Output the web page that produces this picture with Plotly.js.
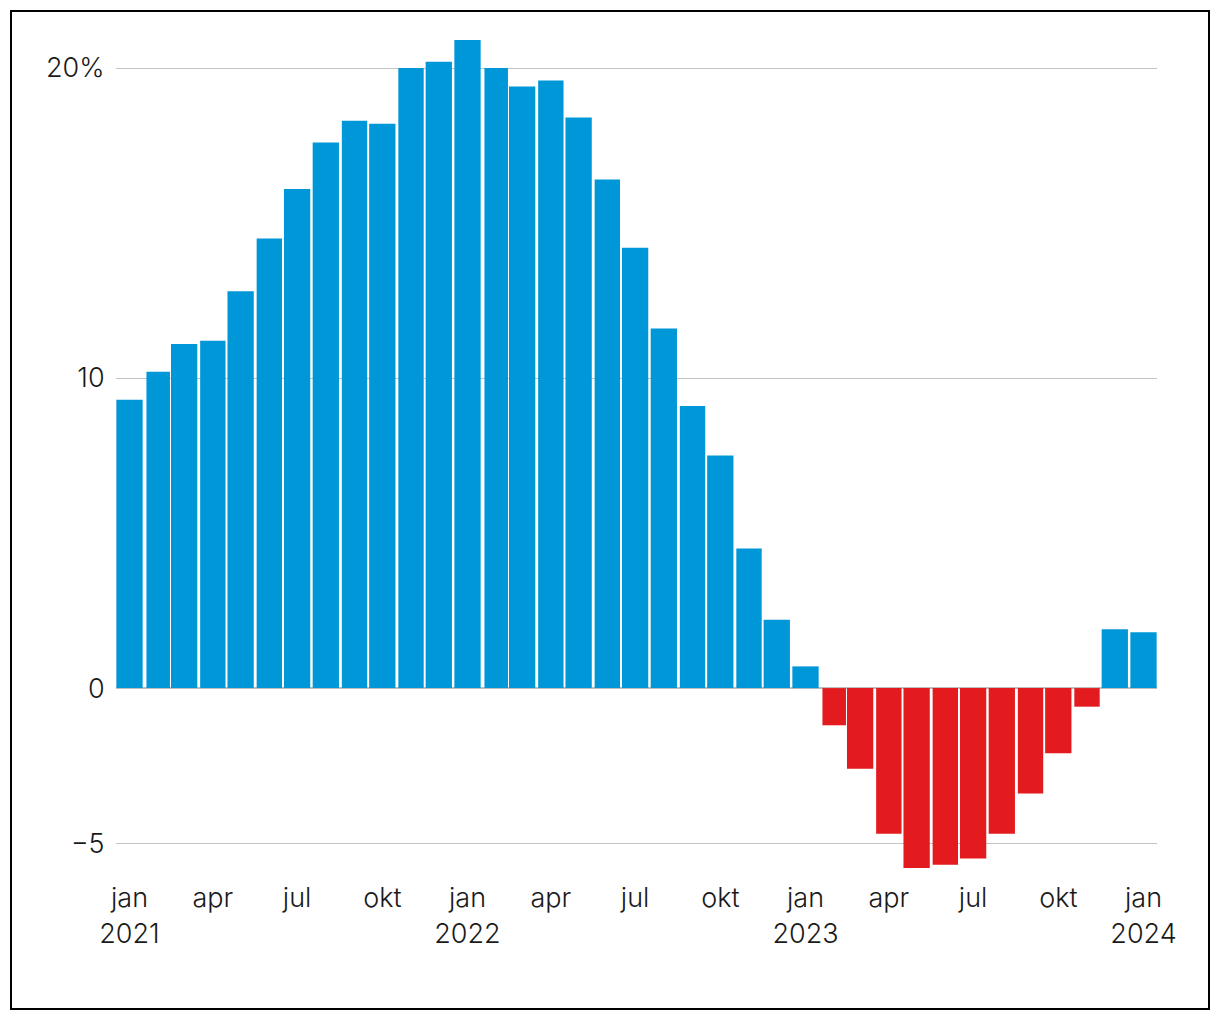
<!DOCTYPE html>
<html>
<head>
<meta charset="utf-8">
<script src="https://cdn.plot.ly/plotly-3.0.1.min.js"></script>
<style>
  html, body { margin: 0; padding: 0; background: #ffffff; }
  #chart { width: 1220px; height: 1020px; }
</style>
</head>
<body>
<div id="chart"></div>
<script>
// Month start dates (Jan 2021 – Jan 2024)
const months = [
  '2021-01-01','2021-02-01','2021-03-01','2021-04-01','2021-05-01','2021-06-01',
  '2021-07-01','2021-08-01','2021-09-01','2021-10-01','2021-11-01','2021-12-01',
  '2022-01-01','2022-02-01','2022-03-01','2022-04-01','2022-05-01','2022-06-01',
  '2022-07-01','2022-08-01','2022-09-01','2022-10-01','2022-11-01','2022-12-01',
  '2023-01-01','2023-02-01','2023-03-01','2023-04-01','2023-05-01','2023-06-01',
  '2023-07-01','2023-08-01','2023-09-01','2023-10-01','2023-11-01','2023-12-01',
  '2024-01-01'
];
// Year-on-year change, %
const values = [
  9.3, 10.2, 11.1, 11.2, 12.8, 14.5,
  16.1, 17.6, 18.3, 18.2, 20.0, 20.2,
  20.9, 20.0, 19.4, 19.6, 18.4, 16.4,
  14.2, 11.6, 9.1, 7.5, 4.5, 2.2,
  0.7, -1.2, -2.6, -4.7, -5.8, -5.7,
  -5.5, -4.7, -3.4, -2.1, -0.6, 1.9,
  1.8
];
const xTickVals = [
  '2021-01-01','2021-04-01','2021-07-01','2021-10-01',
  '2022-01-01','2022-04-01','2022-07-01','2022-10-01',
  '2023-01-01','2023-04-01','2023-07-01','2023-10-01',
  '2024-01-01'
];
const xTickText = [
  'jan<br>2021','apr','jul','okt',
  'jan<br>2022','apr','jul','okt',
  'jan<br>2023','apr','jul','okt',
  'jan<br>2024'
];
const yTickVals = [-5, 0, 10, 20];
const yTickText = ['\u22125', '0', '10', '20%'];

const BLUE = '#0097d9';
const RED = '#e31b1e';
const DAY = 86400000;

const widths = months.map(m => {
  const d = new Date(m + 'T00:00:00Z');
  const next = new Date(Date.UTC(d.getUTCFullYear(), d.getUTCMonth() + 1, 1));
  const days = (next - d) / DAY;
  return (days - 2.6) * DAY;
});
const colors = values.map(v => v < 0 ? RED : BLUE);

const trace = {
  type: 'bar',
  x: months,
  y: values,
  width: widths,
  marker: { color: colors, line: { width: 0 } },
  hoverinfo: 'x+y'
};

// plot area in pixels: x 116..1157, y 37..871
const L = 116, R = 1157, T = 37, B = 871;
const px = v => (v - L) / (R - L);
const py = v => (B - v) / (B - T);

const FONT = 'Inter, Roboto, Arial, sans-serif';
const TF = { family: FONT, size: 27, color: '#1a1a1a', weight: 300 };

const layout = {
  width: 1220,
  height: 1020,
  margin: { l: L, r: 1220 - R, t: T, b: 1020 - B, pad: 0 },
  paper_bgcolor: '#ffffff',
  plot_bgcolor: '#ffffff',
  showlegend: false,
  font: TF,
  xaxis: {
    type: 'date',
    range: ['2020-12-17 10:00', '2024-01-15 14:00'],
    tickmode: 'array',
    tickvals: xTickVals,
    ticktext: xTickText,
    ticks: 'outside',
    ticklen: 3,
    tickcolor: 'rgba(0,0,0,0)',
    showgrid: false,
    zeroline: false,
    showline: false,
    tickfont: TF
  },
  yaxis: {
    range: [-5.9, 21],
    tickmode: 'array',
    tickvals: yTickVals,
    ticktext: yTickText,
    ticks: 'outside',
    ticklen: 5,
    tickcolor: 'rgba(0,0,0,0)',
    showgrid: true,
    gridcolor: '#c4c4c4',
    gridwidth: 1,
    zeroline: true,
    zerolinecolor: '#bcbcbc',
    zerolinewidth: 2,
    showline: false,
    tickfont: TF
  },
  shapes: [{
    type: 'rect',
    xref: 'paper', yref: 'paper',
    x0: px(11), x1: px(1209),
    y0: py(1009), y1: py(11),
    line: { color: '#000000', width: 2 },
    fillcolor: 'rgba(0,0,0,0)',
    layer: 'above'
  }]
};

Plotly.newPlot('chart', [trace], layout, { displayModeBar: false, staticPlot: true });
</script>
</body>
</html>
